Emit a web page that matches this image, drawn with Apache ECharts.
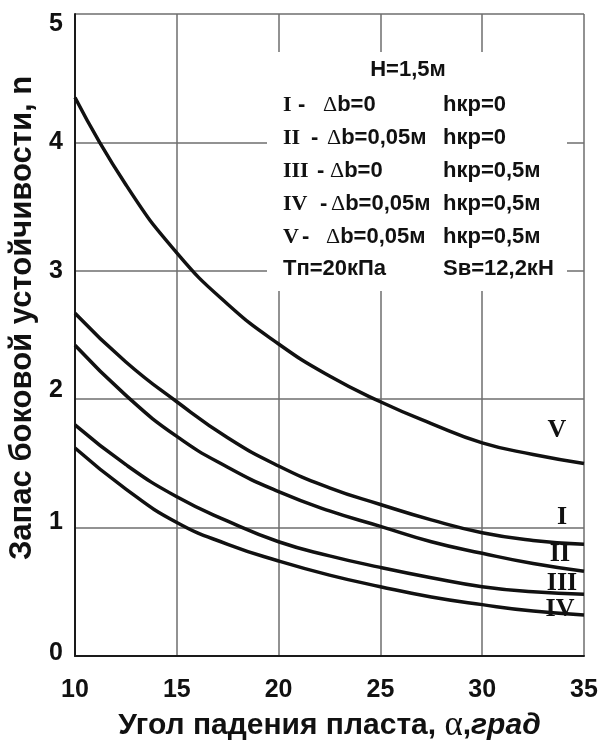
<!DOCTYPE html>
<html>
<head>
<meta charset="utf-8">
<script src="https://cdn.jsdelivr.net/npm/echarts@6/dist/echarts.min.js"></script>
<style>
  html, body { margin: 0; padding: 0; background: #fff; }
  #chart { width: 598px; height: 746px; }
</style>
</head>
<body>
<div id="chart"></div>
<script>
// Dip angle of the seam, degrees
const angles = [10, 12.5, 15, 17.5, 20, 22.5, 25, 27.5, 30, 32.5, 35];

// Lateral stability margin n for each case
const curveI   = [2.67, 2.29, 1.98, 1.70, 1.48, 1.31, 1.18, 1.06, 0.96, 0.90, 0.87];
const curveII  = [2.42, 2.03, 1.71, 1.47, 1.28, 1.13, 1.01, 0.89, 0.80, 0.72, 0.66];
const curveIII = [1.80, 1.49, 1.24, 1.05, 0.89, 0.78, 0.69, 0.61, 0.54, 0.50, 0.48];
const curveIV  = [1.62, 1.30, 1.04, 0.87, 0.74, 0.63, 0.54, 0.46, 0.40, 0.35, 0.32];
const curveV   = [4.35, 3.67, 3.14, 2.74, 2.43, 2.18, 1.98, 1.81, 1.66, 1.57, 1.50];

const yTicks = [0, 1, 2, 3, 4, 5];
const xTicks = [10, 15, 20, 25, 30, 35];

// Roman numeral tags next to the curve ends, in data coordinates
const curveTags = [
  { text: 'V',   x: 33.67, y: 1.76 },
  { text: 'I',   x: 33.92, y: 1.08 },
  { text: 'II',  x: 33.82, y: 0.79 },
  { text: 'III', x: 33.92, y: 0.57 },
  { text: 'IV',  x: 33.82, y: 0.36 }
];

const SANS = '"Liberation Sans", Arial, sans-serif';
const SERIF = '"Liberation Serif", "Times New Roman", serif';

function pairs(vals) {
  return angles.map((a, i) => [a, vals[i]]);
}

function curve(name, vals) {
  return {
    name: name,
    type: 'line',
    data: pairs(vals),
    smooth: 0.5,
    symbol: 'none',
    lineStyle: { color: '#111', width: 3.5 },
    z: 3
  };
}

// per-tick vertical nudges of the y labels
const yLabelRich = {
  l0: { padding: [0, 0, 6, 0] },
  l1: { padding: [0, 0, 10, 0] },
  l2: { padding: [0, 0, 18, 0] },
  l3: { padding: [0, 0, 0, 0] },
  l4: { padding: [0, 0, 0, 0] },
  l5: { padding: [20, 0, 0, 0] }
};
Object.keys(yLabelRich).forEach(k => {
  Object.assign(yLabelRich[k], { fontFamily: SANS, fontWeight: 'bold', fontSize: 25, color: '#111' });
});

const chart = echarts.init(document.getElementById('chart'), null, { renderer: 'canvas' });

const option = {
  backgroundColor: '#fff',
  animation: false,
  grid: {
    left: 75, right: 14, top: 14, bottom: 90,
    containLabel: false,
    outerBoundsMode: 'none'
  },
  xAxis: {
    type: 'value',
    min: xTicks[0],
    max: xTicks[xTicks.length - 1],
    interval: 5,
    axisLine: { lineStyle: { color: '#1a1a1a', width: 2 } },
    axisTick: { show: false },
    splitLine: { show: true, lineStyle: { color: '#6e6e6e', width: 1.5 } },
    axisLabel: {
      margin: 22,
      fontFamily: SANS, fontWeight: 'bold', fontSize: 25, color: '#111'
    },
    name: '{a|Угол падения пласта, }{g|α}{a|,}{i|град}',
    nameLocation: 'middle',
    nameGap: 44,
    nameTextStyle: {
      rich: {
        a: { fontFamily: SANS, fontWeight: 'bold', fontSize: 30, color: '#111' },
        g: { fontFamily: SERIF, fontSize: 35, color: '#111' },
        i: { fontFamily: SANS, fontWeight: 'bold', fontStyle: 'italic', fontSize: 30, color: '#111' }
      }
    }
  },
  yAxis: {
    type: 'value',
    min: yTicks[0],
    max: yTicks[yTicks.length - 1],
    interval: 1,
    axisLine: { show: true, lineStyle: { color: '#1a1a1a', width: 2 } },
    axisTick: { show: false },
    splitLine: { show: true, lineStyle: { color: '#6e6e6e', width: 1.5 } },
    axisLabel: {
      margin: 12,
      formatter: v => '{l' + v + '|' + v + '}',
      rich: yLabelRich
    },
    name: 'Запас боковой устойчивости, n',
    nameLocation: 'middle',
    nameGap: 37,
    nameTextStyle: {
      fontFamily: SANS, fontWeight: 'bold', fontSize: 31, color: '#111',
      padding: [0, 0, 0, 34]
    }
  },
  series: [
    curve('I', curveI),
    curve('II', curveII),
    curve('III', curveIII),
    curve('IV', curveIV),
    curve('V', curveV)
  ]
};

chart.setOption(option);

// Legend block with the calculation parameters
const legendSans = { fontFamily: SANS, fontWeight: 'bold', fontSize: 22, fill: '#111' };
const legendSerif = { fontFamily: SERIF, fontWeight: 'bold', fontSize: 22, fill: '#111' };

function txt(x, y, text, style, align) {
  return {
    type: 'text', x: x, y: y, z: 6,
    style: Object.assign({ text: text, verticalAlign: 'middle', align: align || 'left' }, style)
  };
}

const legendRows = [
  { y: 105, roman: 'I',   dashX: 298, deltaX: 323, db: 'b=0',     h: 'hкр=0' },
  { y: 138, roman: 'II',  dashX: 311, deltaX: 327, db: 'b=0,05м', h: 'hкр=0' },
  { y: 171, roman: 'III', dashX: 317, deltaX: 330, db: 'b=0',     h: 'hкр=0,5м' },
  { y: 204, roman: 'IV',  dashX: 320, deltaX: 331, db: 'b=0,05м', h: 'hкр=0,5м' },
  { y: 237, roman: 'V',   dashX: 302, deltaX: 326, db: 'b=0,05м', h: 'hкр=0,5м' }
];

const graphics = [
  {
    type: 'rect', z: 1, silent: true,
    shape: { x: 267, y: 52, width: 300, height: 239 },
    style: { fill: '#fff' }
  },
  txt(408, 70, 'H=1,5м', legendSans, 'center')
];

legendRows.forEach(r => {
  graphics.push(txt(283, r.y, r.roman, legendSerif));
  graphics.push(txt(r.dashX, r.y, '-', legendSans));
  graphics.push({
    type: 'text', x: r.deltaX, y: r.y, z: 6,
    style: {
      text: '{d|Δ}{s|' + r.db + '}',
      verticalAlign: 'middle',
      rich: {
        d: { fontFamily: SERIF, fontSize: 22, fill: '#111' },
        s: { fontFamily: SANS, fontWeight: 'bold', fontSize: 22, fill: '#111' }
      }
    }
  });
  graphics.push(txt(443, r.y, r.h, legendSans));
});
graphics.push(txt(283, 269, 'Tп=20кПа', legendSans));
graphics.push(txt(443, 269, 'Sв=12,2кН', legendSans));

// Curve tags positioned from data coordinates
const tagStyle = { fontFamily: SERIF, fontWeight: 'bold', fontSize: 26, fill: '#111' };
curveTags.forEach(t => {
  const p = chart.convertToPixel({ gridIndex: 0 }, [t.x, t.y]);
  graphics.push(txt(p[0], p[1], t.text, tagStyle, 'center'));
});

chart.setOption({ graphic: { elements: graphics } });
</script>
</body>
</html>
